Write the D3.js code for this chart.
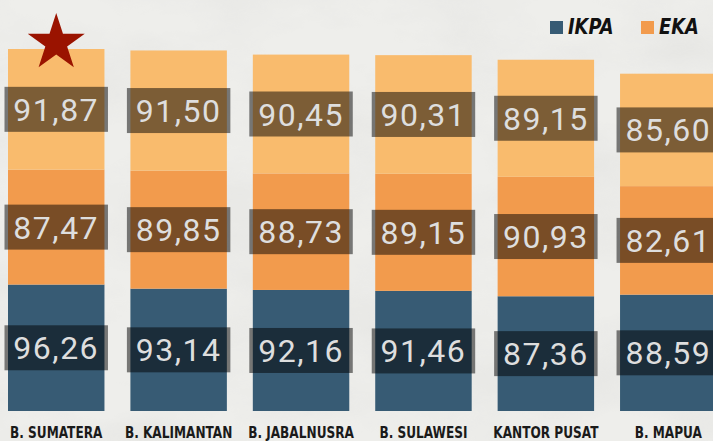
<!DOCTYPE html>
<html>
<head>
<meta charset="utf-8">
<script src="https://cdn.jsdelivr.net/npm/d3@7"></script>
<style>
	body { margin: 0; padding: 0; background: #ebebe8; }
	#chart-area { width: 713px; height: 441px; }
</style>
</head>
<body>
<div id="chart-area"></div>
<script>

// data
let categories = ["B. SUMATERA", "B. KALIMANTAN", "B. JABALNUSRA", "B. SULAWESI", "KANTOR PUSAT", "B. MAPUA"];
let ikpaValues = [96.26, 93.14, 92.16, 91.46, 87.36, 88.59];
let ekaValues = [87.47, 89.85, 88.73, 89.15, 90.93, 82.61];
let topValues = [91.87, 91.50, 90.45, 90.31, 89.15, 85.60];
let legendLabels = ["IKPA", "EKA"];

class StackedScoreChart {

	constructor(parentElement){
		this.parentElement = parentElement;
		this.displayData = [];

		this.prepareData();
	}

	prepareData(){
		let vis = this;

		vis.keys = ["ikpa", "eka", "top"];

		for(let i = 0; i < categories.length; i++){
			vis.displayData.push({
				name: categories[i],
				ikpa: ikpaValues[i],
				eka: ekaValues[i],
				top: topValues[i]
			});
		}

		vis.stacked = d3.stack().keys(vis.keys)(vis.displayData);

		vis.initVis();
	}

	initVis(){
		let vis = this;

		vis.width = 713;
		vis.height = 441;

		vis.svg = d3.select("#" + vis.parentElement).append("svg")
			.attr("width", vis.width)
			.attr("height", vis.height);

		// cloudy grey backdrop
		let defs = vis.svg.append("defs");
		let filter = defs.append("filter")
			.attr("id", "clouds")
			.attr("x", 0).attr("y", 0)
			.attr("width", "100%").attr("height", "100%");
		filter.append("feTurbulence")
			.attr("type", "fractalNoise")
			.attr("baseFrequency", "0.006 0.012")
			.attr("numOctaves", 5)
			.attr("seed", 7);
		filter.append("feColorMatrix")
			.attr("type", "matrix")
			.attr("values", "0 0 0 0 0.55  0 0 0 0 0.55  0 0 0 0 0.54  -0.9 0 0 0 0.55");

		vis.svg.append("rect")
			.attr("width", vis.width)
			.attr("height", vis.height)
			.attr("fill", "#eeeeeb");
		vis.svg.append("rect")
			.attr("width", vis.width)
			.attr("height", vis.height)
			.attr("filter", "url(#clouds)")
			.attr("opacity", 0.45);

		vis.colors = d3.scaleOrdinal()
			.domain(vis.keys)
			.range(["#375b74", "#f29b4d", "#f9bb6d"]);

		vis.x = d3.scaleBand()
			.domain(categories)
			.range([8, 716.5])
			.paddingInner(0.212)
			.paddingOuter(0);

		vis.y = d3.scaleLinear()
			.domain([0, d3.max(vis.displayData, d => d.ikpa + d.eka + d.top)])
			.range([411, 49]);

		vis.updateVis();
	}

	updateVis(){
		let vis = this;
		let bw = vis.x.bandwidth();

		let layers = vis.svg.selectAll(".layer")
			.data(vis.stacked)
			.enter().append("g")
			.attr("class", "layer")
			.attr("fill", d => vis.colors(d.key));

		layers.selectAll("rect")
			.data(d => d)
			.enter().append("rect")
			.attr("x", d => vis.x(d.data.name))
			.attr("y", d => vis.y(d[1]))
			.attr("width", bw)
			.attr("height", d => vis.y(d[0]) - vis.y(d[1]));

		// value boxes
		let segments = [];
		vis.stacked.forEach(layer => {
			layer.forEach(d => segments.push({name: d.data.name, lo: d[0], hi: d[1], value: d[1] - d[0]}));
		});

		let boxH = 45;
		let boxW = bw + 7;
		let fmt = v => v.toFixed(2).replace(".", ",");

		let labels = vis.svg.selectAll(".value-label")
			.data(segments)
			.enter().append("g")
			.attr("class", "value-label")
			.attr("transform", d => "translate(" + (vis.x(d.name) + bw / 2) + "," + ((vis.y(d.lo) + vis.y(d.hi)) / 2) + ")");

		labels.append("rect")
			.attr("x", -boxW / 2)
			.attr("y", -boxH / 2)
			.attr("width", boxW)
			.attr("height", boxH)
			.attr("fill", "rgba(0,0,0,0.5)");

		labels.append("text")
			.attr("text-anchor", "middle")
			.attr("dy", "0.36em")
			.attr("fill", "#dedede")
			.style("font-family", "Roboto, 'Liberation Sans', sans-serif")
			.style("font-size", "32px")
			.style("letter-spacing", "1.5px")
			.text(d => fmt(d.value));

		// category names (squeezed to look condensed)
		vis.svg.selectAll(".cat-label")
			.data(categories)
			.enter().append("text")
			.attr("class", "cat-label")
			.attr("transform", d => "translate(" + (vis.x(d) + bw / 2) + ",438) scale(0.9,1)")
			.attr("text-anchor", "middle")
			.attr("fill", "#1a1a1a")
			.style("font-family", "'DejaVu Sans Condensed', 'Liberation Sans Narrow', sans-serif")
			.style("font-weight", "700")
			.style("font-size", "15px")
			.text(d => d);

		// star on the leading bar
		let first = vis.displayData[0];
		vis.svg.append("path")
			.attr("d", d3.symbol(d3.symbolStar, 1010)())
			.attr("transform", "translate(" + (vis.x(first.name) + bw / 2) + "," + (vis.y(first.ikpa + first.eka + first.top) - 6) + ")")
			.attr("fill", "#9a1300");

		// legend
		let legendX = [550, 641];
		let legend = vis.svg.selectAll(".legend")
			.data(legendLabels)
			.enter().append("g")
			.attr("class", "legend")
			.attr("transform", (d, i) => "translate(" + legendX[i] + ",21)");

		legend.append("rect")
			.attr("width", 13)
			.attr("height", 13)
			.attr("fill", (d, i) => vis.colors(vis.keys[i]));

		legend.append("text")
			.attr("transform", "translate(18,13) scale(0.9,1)")
			.attr("fill", "#111")
			.style("font-family", "'DejaVu Sans Condensed', 'Liberation Sans Narrow', sans-serif")
			.style("font-weight", "700")
			.style("font-style", "italic")
			.style("font-size", "22px")
			.text(d => d);
	}
}

new StackedScoreChart("chart-area");

</script>
</body>
</html>
